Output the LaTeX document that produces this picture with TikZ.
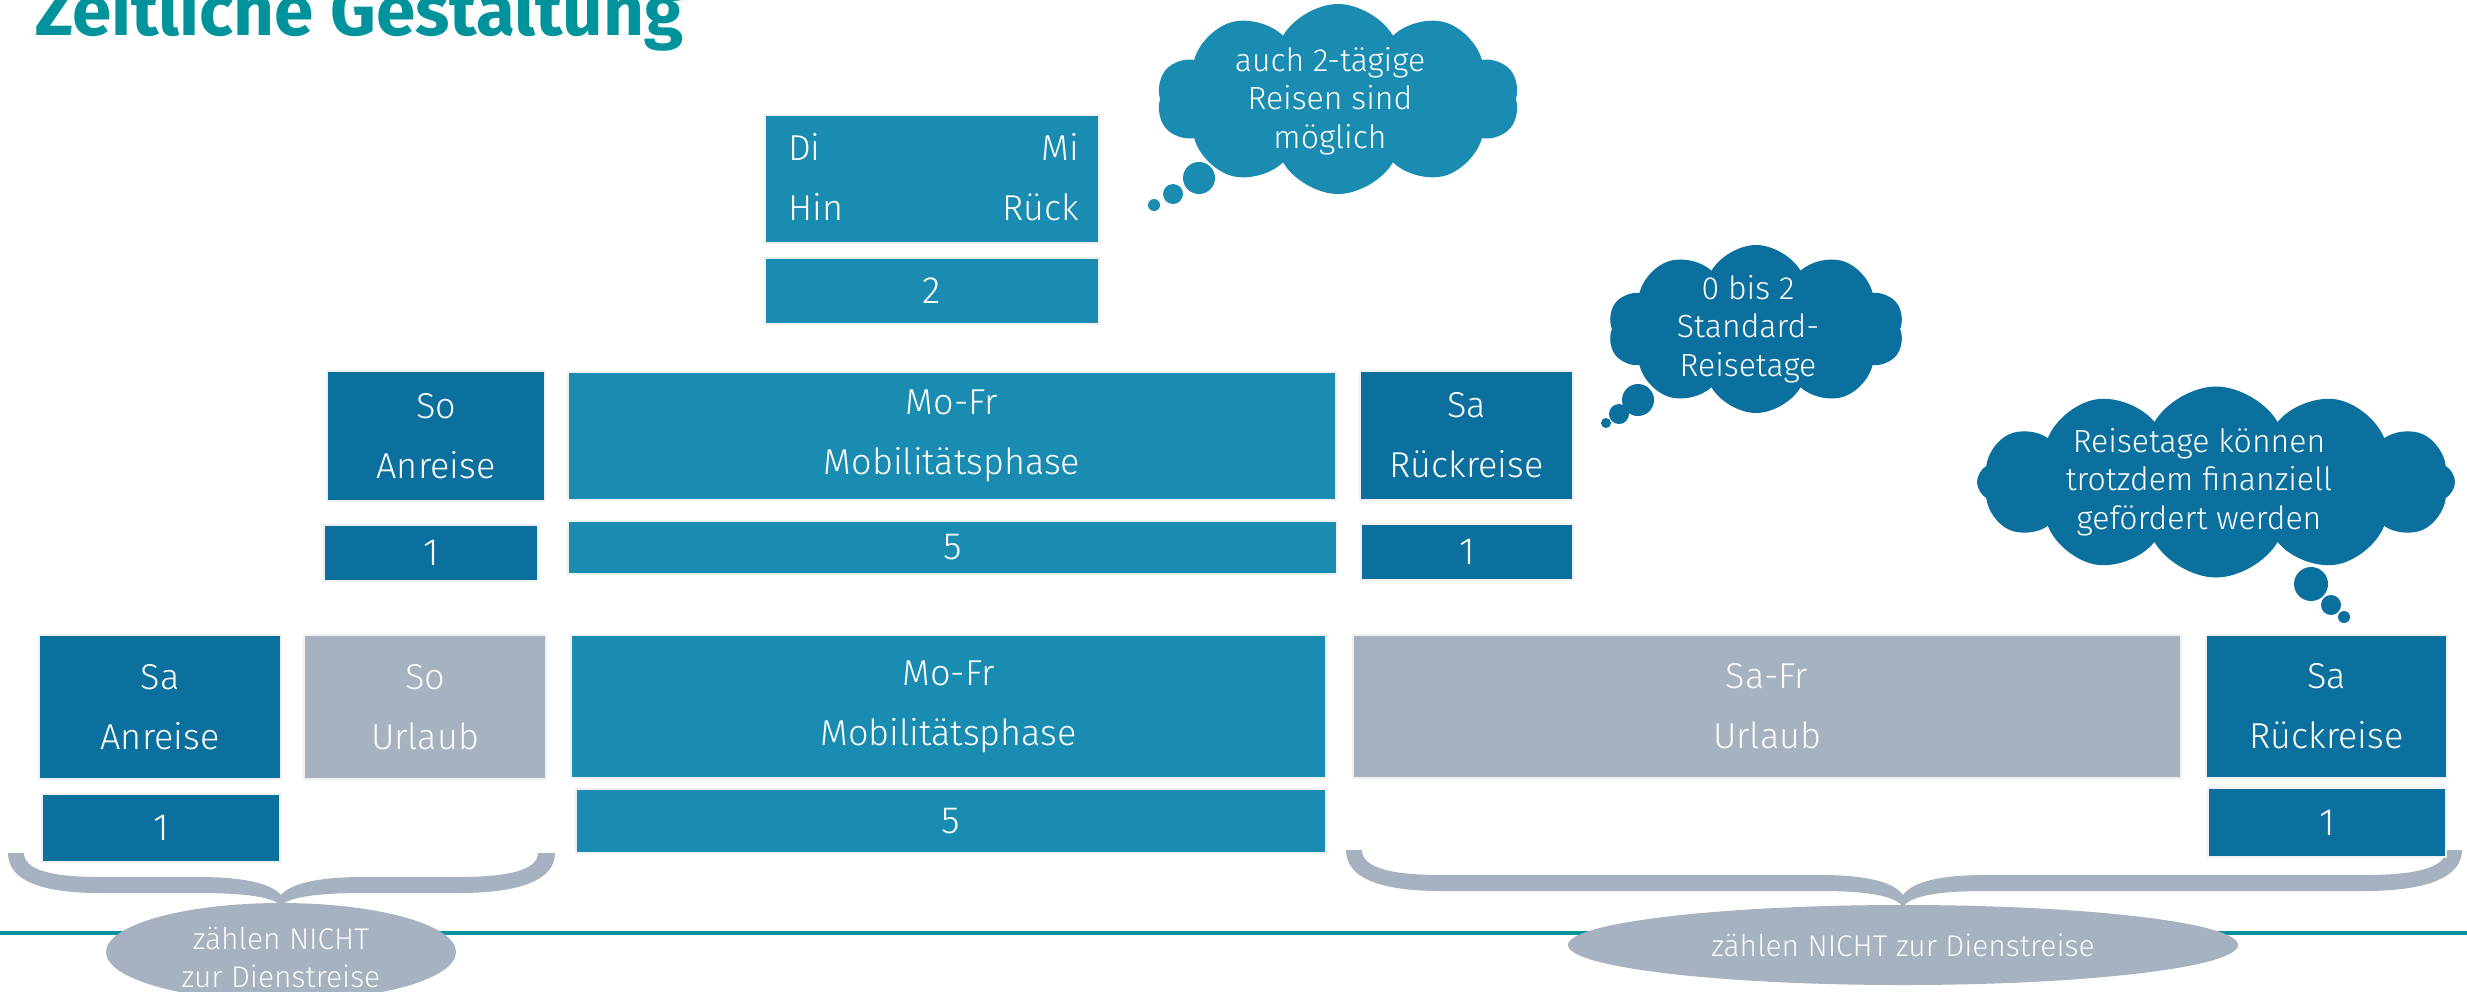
\documentclass[tikz,border=0pt]{standalone}
\usepackage{fontspec}
\setmainfont{Fira Sans}[UprightFont=* Light]
\newfontfamily\titlefont{Fira Sans}[UprightFont=* Bold]
\usetikzlibrary{shapes.geometric,shapes.symbols}
\definecolor{lb}{HTML}{1A8CB2}
\definecolor{db}{HTML}{0C709E}
\definecolor{gr}{HTML}{A6B2BF}
\definecolor{tealA}{HTML}{00939B}
\newcommand\boxfont{\fontsize{36}{60}\selectfont}
\newcommand\numfont{\fontsize{38}{40}\selectfont}
\newcommand\cloudfont{\fontsize{32}{38.5}\selectfont}
\newcommand\ellfont{\fontsize{30}{38}\selectfont}
\begin{document}
\begin{tikzpicture}[x=1pt,y=-1pt,
  box/.style={rectangle,inner sep=0pt,outer sep=0pt,text=white,align=center,draw=black!6,line width=1.5pt,font=\boxfont},
  numbox/.style={box,font=\numfont},
  wh/.style 2 args={minimum width=#1 pt,minimum height=#2 pt},
  txt/.style={inner sep=0pt,text=white,font=\boxfont},
  thought/.style={cloud,cloud puffs=10,cloud puff arc=120,cloud ignores aspect,inner sep=0pt,outer sep=0pt},
  bubble/.style={circle,inner sep=0pt,outer sep=0pt},
  cloudtext/.style={inner sep=0pt,text=white,align=center,font=\cloudfont},
  ell/.style={ellipse,fill=gr,inner sep=0pt,text=white!94!gr,align=center,font=\ellfont},
  elltext/.style={inner sep=0pt,text=white!94!gr,align=center,font=\ellfont},
  bracefill/.style={fill=gr}]
\useasboundingbox (0,0) rectangle (2467,991);
\fill[white] (0,0) rectangle (2467,991);

% title
\node[anchor=base west,inner sep=0pt,text=tealA,font=\titlefont\fontsize{71}{80}\selectfont] (title) at (35,35) {Zeitliche Gestaltung};

% teal rule
\coordinate (ruleL) at (0,933);
\coordinate (ruleR) at (2467,933);
\draw[tealA,line width=4pt] (ruleL) -- (ruleR);

% braces
\fill[bracefill] (8,853) .. controls (8,882) and (45,893) .. (100,893) -- (199,893)
  .. controls (245,893) and (274,897) .. (281,906)
  .. controls (288,897) and (317,893) .. (364,893) -- (459,893)
  .. controls (515,893) and (555,882) .. (555,853) -- (538,853)
  .. controls (538,870) and (508,877) .. (459,877) -- (364,877)
  .. controls (320,877) and (291,883) .. (281,895)
  .. controls (271,883) and (242,877) .. (199,877) -- (100,877)
  .. controls (52,877) and (24,870) .. (24,853) -- cycle;
\fill[bracefill] (1346,850) .. controls (1346,880) and (1385,891) .. (1441,891) -- (1821,891)
  .. controls (1868,891) and (1896,896) .. (1903,907)
  .. controls (1910,896) and (1938,891) .. (1985,891) -- (2364,891)
  .. controls (2420,891) and (2462,880) .. (2462,850) -- (2446,850)
  .. controls (2446,868) and (2415,875) .. (2364,875) -- (1985,875)
  .. controls (1940,875) and (1912,882) .. (1903,895)
  .. controls (1894,882) and (1866,875) .. (1821,875) -- (1441,875)
  .. controls (1392,875) and (1362,868) .. (1362,850) -- cycle;

% ellipses
\node[ell,minimum width=350pt,minimum height=98pt] (ellL) at (281,952) {};
\node[elltext] (ellLt) at (281,958) {zählen NICHT\\zur Dienstreise};
\node[ell,minimum width=670pt,minimum height=80pt] (ellR) at (1903,945) {zählen NICHT zur Dienstreise};

% row 1
\node[box,fill=lb,wh={334}{128}] (dimi) at (932,179) {};
\node[txt,anchor=base west] (diT) at (788,160) {Di};
\node[txt,anchor=base east] (miT) at (1079,160) {Mi};
\node[txt,anchor=base west] (hinT) at (788,220) {Hin};
\node[txt,anchor=base east] (rueckT) at (1079,220) {Rück};
\node[numbox,fill=lb,wh={334}{66}] (two) at (932,291) {2};

% row 2
\node[box,fill=db,wh={218}{130}] (soA) at (436,436) {So\\Anreise};
\node[numbox,fill=db,wh={214}{56}] (oneA) at (431,553) {1};
\node[box,fill=lb,wh={768}{128}] (mofrA) at (952,436) {Mo-Fr\\Mobilitätsphase};
\node[numbox,fill=lb,wh={769}{53}] (fiveA) at (952.5,547.5) {5};
\node[box,fill=db,wh={213}{129}] (saA) at (1466.5,435.5) {Sa\\Rückreise};
\node[numbox,fill=db,wh={212}{56}] (oneB) at (1467,552) {1};

% row 3
\node[box,fill=db,wh={242}{144}] (saB) at (160,707) {Sa\\Anreise};
\node[numbox,fill=db,wh={238}{68}] (oneC) at (161,828) {1};
\node[box,fill=gr,text=white!94!gr,wh={242}{144}] (soB) at (425,707) {So\\Urlaub};
\node[box,fill=lb,wh={755}{143}] (mofrB) at (948.5,706.5) {Mo-Fr\\Mobilitätsphase};
\node[numbox,fill=lb,wh={750}{64}] (fiveB) at (951,821) {5};
\node[box,fill=gr,text=white!94!gr,wh={828}{143}] (safr) at (1767,706.5) {Sa-Fr\\Urlaub};
\node[box,fill=db,wh={241}{143}] (saC) at (2326.5,706.5) {Sa\\Rückreise};
\node[numbox,fill=db,wh={238}{69}] (oneD) at (2327,822.5) {1};

% clouds
\node[thought,fill=lb,minimum width=362pt,minimum height=190pt] (cl1) at (1338,99) {};
\node[bubble,fill=lb,minimum size=32pt] (cl1a) at (1199,178) {};
\node[bubble,fill=lb,minimum size=20pt] (cl1b) at (1173,194) {};
\node[bubble,fill=lb,minimum size=12pt] (cl1c) at (1154,205) {};
\node[cloudtext] (cl1t) at (1330,101) {auch 2-tägige\\Reisen sind\\möglich};

\node[thought,fill=db,minimum width=296pt,minimum height=168pt] (cl2) at (1756,329) {};
\node[bubble,fill=db,minimum size=32pt] (cl2a) at (1638,400) {};
\node[bubble,fill=db,minimum size=20pt] (cl2b) at (1619,414) {};
\node[bubble,fill=db,minimum size=10pt] (cl2c) at (1606,423) {};
\node[cloudtext] (cl2t) at (1748,329) {0 bis 2\\Standard-\\Reisetage};

\node[thought,fill=db,cloud puffs=12,minimum width=478pt,minimum height=191pt] (cl3) at (2216,482) {};
\node[bubble,fill=db,minimum size=34pt] (cl3a) at (2311,584) {};
\node[bubble,fill=db,minimum size=20pt] (cl3b) at (2331,605) {};
\node[bubble,fill=db,minimum size=12pt] (cl3c) at (2344,617) {};
\node[cloudtext] (cl3t) at (2199,482) {Reisetage können\\trotzdem finanziell\\gefördert werden};
\end{tikzpicture}
\end{document}
